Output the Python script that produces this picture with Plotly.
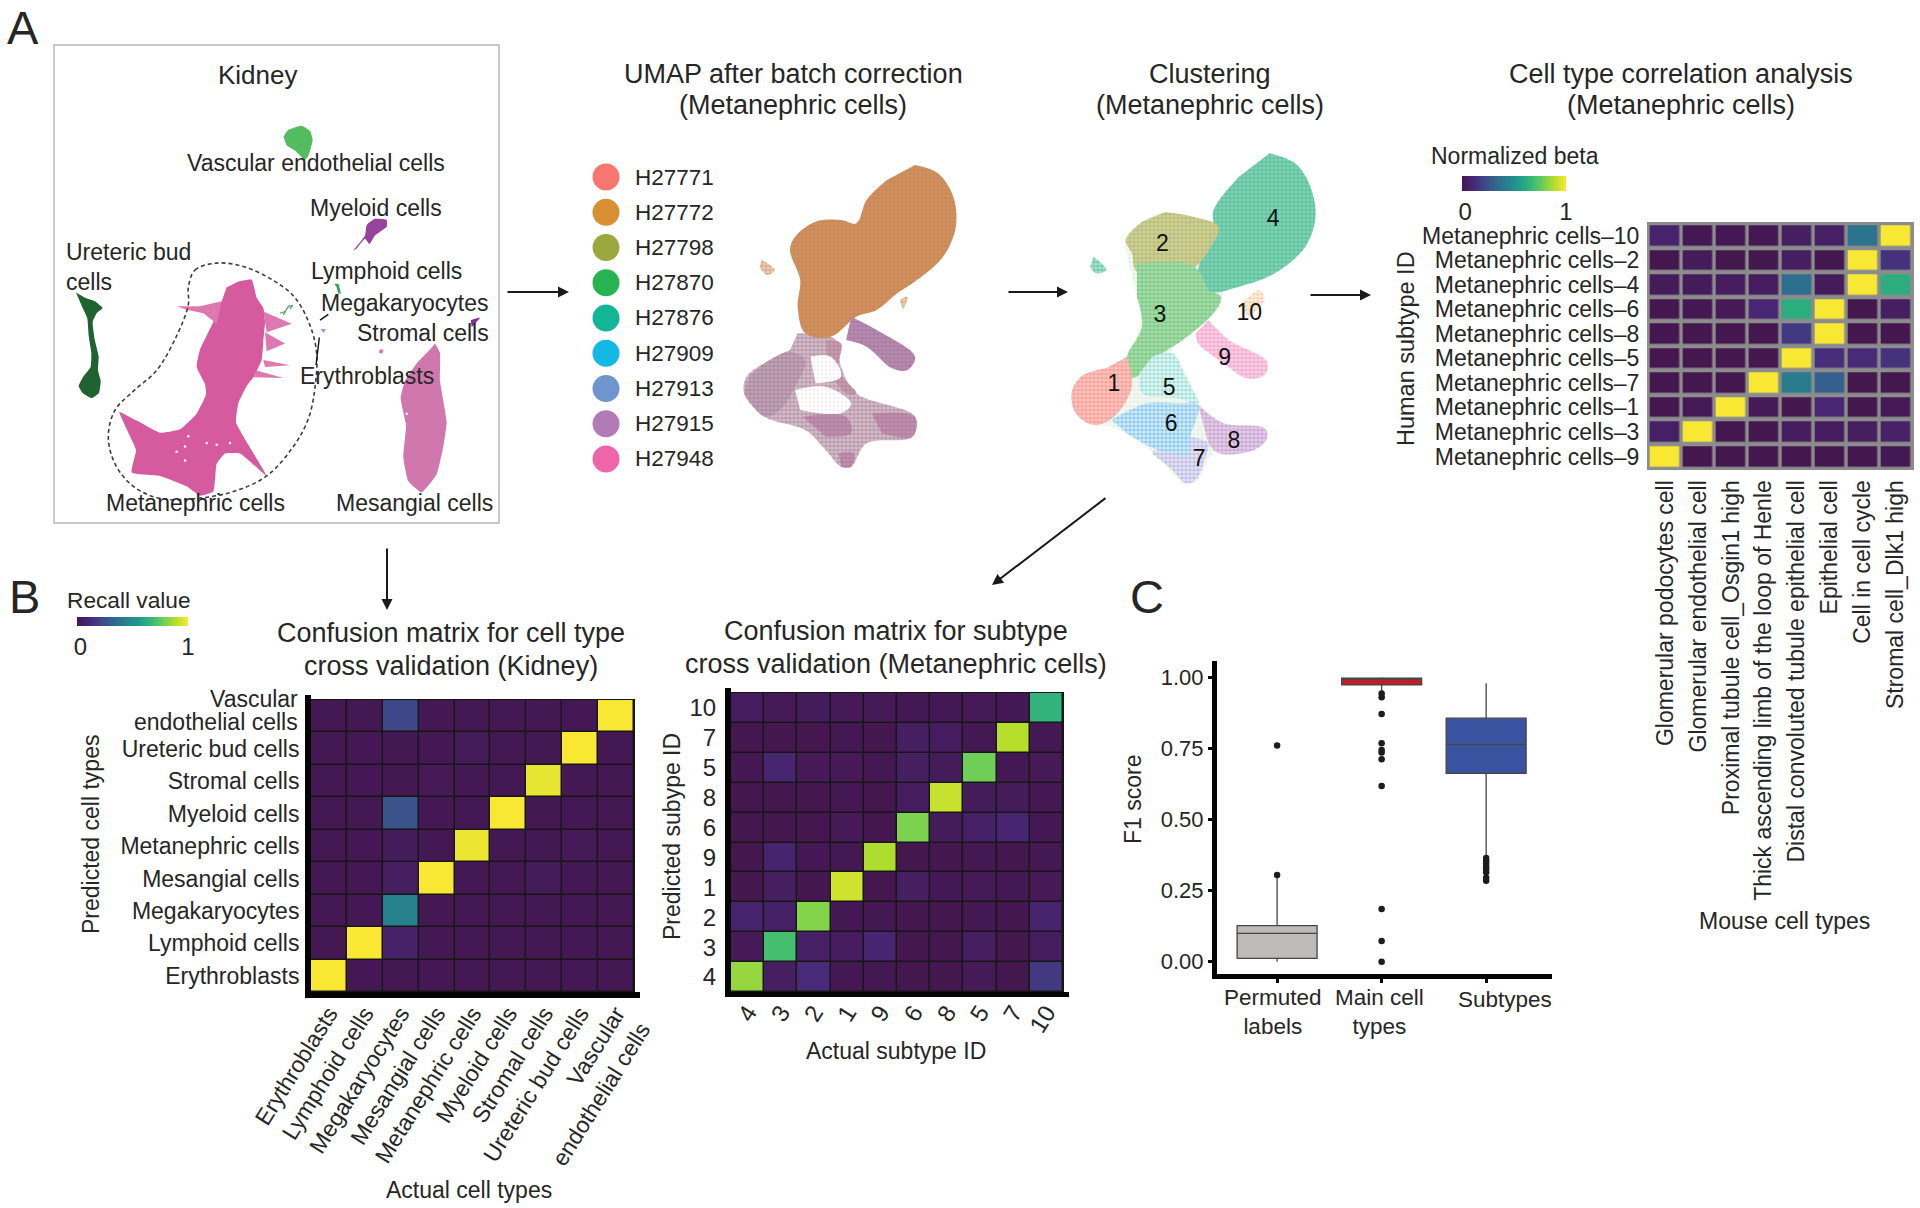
import plotly.graph_objects as go

W, H = 1920, 1208
FONT = "Liberation Sans"
INK = "#262626"

# ---- kidney UMAP outlines ---------------------
VASCULAR_X = [850, 865, 905, 930, 938, 925, 915, 885, 860]
VASCULAR_Y = [395, 375, 363, 378, 405, 450, 462, 435, 420]
MYELOID_X = [1058, 1095, 1100, 1125, 1160, 1160, 1125, 1108, 1095, 1070]
MYELOID_Y = [725, 680, 650, 632, 635, 655, 680, 705, 690, 718]
URETERIC_X = [228, 255, 285, 308, 290, 278, 284, 296, 294, 302, 297, 275, 248, 236, 252, 272, 274, 266, 262, 248]
URETERIC_Y = [845, 860, 870, 890, 905, 930, 980, 1030, 1070, 1100, 1135, 1150, 1135, 1115, 1085, 1060, 1020, 970, 920, 890]
METANEPHRIC_X = [680, 720, 755, 770, 790, 795, 790, 785, 760, 740, 715, 708, 745, 800, 720, 675, 650, 640, 600, 560, 480, 395,
                 408, 385, 358, 410, 480, 540, 590, 618, 615, 590, 600, 640, 665]
METANEPHRIC_Y = [830, 812, 808, 860, 890, 930, 985, 1040, 1090, 1115, 1165, 1220, 1285, 1375, 1310, 1310, 1340, 1420, 1432, 1405, 1375, 1365,
                 1300, 1250, 1190, 1215, 1250, 1240, 1195, 1140, 1110, 1060, 1010, 930, 870]
FRINGE_X = [790, 875, 800, None, 795, 855, 800, None, 790, 870, 795, None, 770, 850, 760, None, 530, 600, 665, 650, 610, 560]
FRINGE_Y = [900, 935, 960, None, 960, 992, 1015, None, 1040, 1055, 1060, None, 1070, 1092, 1090, None, 885, 885, 870, 935, 905, 895]
SPECK_X = [565, 555, 530, 555, 620, 650, 690, 1220, 1215]
SPECK_Y = [1260, 1290, 1305, 1330, 1280, 1285, 1280, 1195, 1225]
MESANGIAL_X = [1305, 1320, 1320, 1340, 1330, 1310, 1265, 1225, 1210, 1218, 1202, 1215, 1250, 1290]
MESANGIAL_Y = [992, 1020, 1100, 1220, 1290, 1370, 1422, 1390, 1320, 1230, 1150, 1100, 1050, 1010]
STROMAL_X = [1412, 1440, 1425, 1415]
STROMAL_Y = [925, 917, 935, 945]
LYMPHOID_X = [1003, 1015, 1022, 1015, 1010]
LYMPHOID_Y = [820, 820, 848, 848, 830]
MESANGIAL_DOT_X = [1138, 1150, 1146, 1138]
MESANGIAL_DOT_Y = [1010, 1010, 1022, 1020]
ERY_DOT_X = [962, 978, 970]
ERY_DOT_Y = [950, 952, 962]
STRAY_X = [840, 855, 850, 865, 878, 870]
STRAY_Y = [905, 900, 910, 885, 882, 892]
DASH_X = [565, 585, 650, 730, 820, 885, 930, 950, 945, 925, 880, 800, 700, 590, 480, 400, 345, 325, 345, 400, 470, 530, 565, 565]
DASH_Y = [830, 780, 760, 770, 810, 860, 940, 1020, 1120, 1210, 1290, 1375, 1420, 1440, 1440, 1405, 1340, 1260, 1185, 1130, 1070, 970, 880, 830]
LEADER_X = [958, 948, None, 960, 985]
LEADER_Y = [975, 1055, None, 925, 908]

BATCH_TOP_X = [735, 780, 810, 815, 790, 730, 700, 660, 620, 570, 520, 505, 510, 490, 500, 540, 590, 620, 640, 680]
BATCH_TOP_Y = [375, 400, 470, 560, 650, 730, 760, 810, 830, 890, 880, 800, 720, 630, 590, 545, 540, 550, 480, 420]
BATCH_ARM_X = [610, 660, 735, 720, 690, 640, 600]
BATCH_ARM_Y = [830, 870, 950, 990, 985, 920, 900]
BATCH_LOW_X = [505, 580, 590, 620, 735, 730, 640, 610, 590, 560, 520, 440, 400, 405, 450, 490]
BATCH_LOW_Y = [880, 900, 980, 1060, 1130, 1190, 1210, 1280, 1280, 1230, 1170, 1130, 1060, 1010, 960, 930]
BATCH_LOBE_X = [410, 450, 490, 520, 500, 470, 440, 400]
BATCH_LOBE_Y = [1010, 960, 935, 960, 1040, 1110, 1130, 1060]
BATCH_STRAND_X = [560, 590, 585, 620, 600, 565]
BATCH_STRAND_Y = [900, 910, 990, 1060, 1060, 990]
BATCH_HOLE1_X = [500, 560, 610, 590, 510]
BATCH_HOLE1_Y = [1050, 1040, 1090, 1120, 1110]
BATCH_HOLE2_X = [530, 570, 590, 540]
BATCH_HOLE2_Y = [950, 950, 1010, 1030]
BATCH_BAND1_X = [515, 600, 610, 560]
BATCH_BAND1_Y = [1130, 1130, 1180, 1190]
BATCH_BAND2_X = [650, 735, 730, 670]
BATCH_BAND2_Y = [1120, 1130, 1190, 1180]
BATCH_TIP_X = [585, 615, 610, 590]
BATCH_TIP_Y = [1240, 1240, 1280, 1280]
BATCH_ISLE1_X = [435, 460, 445, 430]
BATCH_ISLE1_Y = [660, 690, 705, 680]
BATCH_ISLE2_X = [705, 720, 712]
BATCH_ISLE2_Y = [780, 770, 810]

C_BASE_X = [1430, 1490, 1520, 1490, 1430, 1340, 1330, 1290, 1240, 1270, 1295, 1340, 1420, 1425, 1400, 1320, 1290, 1265, 1200, 1120,
            1085, 1050, 1042, 1060, 1145, 1175, 1170, 1150, 1148, 1180, 1225, 1320, 1360]
C_BASE_Y = [340, 390, 520, 640, 710, 760, 800, 860, 930, 1010, 1095, 1150, 1165, 1195, 1230, 1240, 1320, 1330, 1235, 1160,
            1155, 1120, 1060, 1010, 960, 860, 770, 640, 600, 545, 517, 540, 430]
C4_X = [1430, 1480, 1510, 1520, 1500, 1440, 1370, 1310, 1290, 1305, 1320, 1320, 1370]
C4_Y = [340, 370, 440, 530, 620, 700, 740, 755, 700, 620, 560, 510, 410]
C2_X = [1225, 1280, 1330, 1315, 1275, 1170, 1160, 1148, 1180]
C2_Y = [517, 530, 560, 620, 690, 695, 640, 600, 545]
C3_X = [1170, 1270, 1295, 1310, 1335, 1320, 1260, 1220, 1170, 1150, 1150, 1180, 1170]
C3_Y = [670, 670, 700, 750, 770, 820, 900, 940, 1010, 1010, 950, 860, 770]
C1_X = [1150, 1160, 1125, 1085, 1050, 1042, 1060, 1110]
C1_Y = [950, 1040, 1130, 1155, 1120, 1060, 1010, 985]
C5_X = [1200, 1240, 1265, 1290, 1250, 1180, 1175]
C5_Y = [950, 940, 1010, 1090, 1075, 1060, 1000]
C6_X = [1120, 1190, 1250, 1290, 1275, 1270, 1210, 1150]
C6_Y = [1140, 1090, 1090, 1095, 1190, 1250, 1230, 1180]
C7_X = [1275, 1310, 1305, 1285, 1265, 1240, 1200, 1270]
C7_Y = [1190, 1210, 1250, 1320, 1330, 1290, 1235, 1250]
C8_X = [1290, 1340, 1420, 1425, 1400, 1330, 1310]
C8_Y = [1095, 1150, 1165, 1195, 1230, 1240, 1210]
C9_X = [1310, 1350, 1425, 1420, 1385, 1340, 1290, 1285]
C9_Y = [840, 900, 965, 1005, 1015, 970, 910, 880]
C10_X = [1370, 1410, 1420, 1390]
C10_Y = [800, 750, 780, 830]
C_ISLE_X = [1085, 1110, 1090, 1078]
C_ISLE_Y = [650, 690, 700, 680]
CLUSTER_IDS = ["2", "4", "3", "10", "9", "1", "5", "6", "8", "7"]
CLUSTER_LABEL_X = [1220, 1437, 1215, 1390, 1342, 1125, 1233, 1237, 1360, 1292]
CLUSTER_LABEL_Y = [615, 540, 828, 822, 958, 1035, 1048, 1157, 1207, 1262]

BATCH_IDS = ["H27771", "H27772", "H27798", "H27870", "H27876", "H27909", "H27913", "H27915", "H27948"]
BATCH_COLORS = ["#f8766d", "#d89033", "#9aa83d", "#27b34f", "#12b596", "#14b9e3", "#6f95cf", "#b27bb5", "#ee66a8"]

# ---- heatmaps ---------------------------------------------------------------
HUMAN_SUBTYPES = ["Metanephric cells\u201310", "Metanephric cells\u20132", "Metanephric cells\u20134",
                  "Metanephric cells\u20136", "Metanephric cells\u20138", "Metanephric cells\u20135",
                  "Metanephric cells\u20137", "Metanephric cells\u20131", "Metanephric cells\u20133",
                  "Metanephric cells\u20139"]
MOUSE_TYPES = ["Glomerular podocytes cell", "Glomerular endothelial cell", "Proximal tubule cell_Osgin1 high",
               "Thick ascending limb of the loop of Henle", "Distal convoluted tubule epithelial cell",
               "Epithelial cell", "Cell in cell cycle", "Stromal cell_Dlk1 high"]
BETA = [
    [.08, .01, .01, .01, .05, .06, .38, 1],
    [0, .03, 0, 0, .05, 0, 1, .14],
    [.03, .03, .04, .04, .36, .03, 1, .62],
    [0, .01, .02, .1, .62, 1, 0, .05],
    [0, 0, 0, 0, .17, 1, 0, 0],
    [0, 0, 0, 0, 1, .13, .12, .14],
    [0, 0, 0, 1, .42, .3, 0, 0],
    [0, .02, 1, .02, 0, .1, 0, .02],
    [.06, 1, 0, 0, .04, .04, .05, .07],
    [1, 0, 0, 0, 0, 0, 0, .01],
]
PREDICTED_TYPES = ["Vascular endothelial cells", "Ureteric bud cells", "Stromal cells", "Myeloid cells",
                   "Metanephric cells", "Mesangial cells", "Megakaryocytes", "Lymphoid cells", "Erythroblasts"]
ACTUAL_TYPES = ["Erythroblasts", "Lymphoid cells", "Megakaryocytes", "Mesangial cells", "Metanephric cells",
                "Myeloid cells", "Stromal cells", "Ureteric bud cells", "Vascular<br>endothelial cells"]
RECALL = [
    [.01, .01, .22, .01, .01, .01, .01, .01, 1],
    [.01, .01, .01, .01, .03, .01, .01, 1, .01],
    [.01, .01, .01, .02, .01, .01, .97, .01, .01],
    [.01, .01, .26, .01, .01, 1, .01, .01, .01],
    [.01, .01, .03, .01, .98, .01, .01, .02, .01],
    [.01, .01, .05, 1, .01, .01, .03, .01, .01],
    [.01, .01, .45, .01, .01, .01, .01, .01, .01],
    [.01, 1, .07, .01, .01, .01, .01, .01, .01],
    [1, .01, .01, .01, .01, .01, .01, .01, .01],
]
PREDICTED_SUBTYPES = ["10", "7", "5", "8", "6", "9", "1", "2", "3", "4"]
ACTUAL_SUBTYPES = ["4", "3", "2", "1", "9", "6", "8", "5", "7", "10"]
SUBTYPE_RECALL = [
    [.04, .02, .03, .02, .02, .01, .01, .02, .01, .65],
    [0, 0, 0, .01, 0, .05, .04, .01, .89, .01],
    [.01, .09, .02, .02, .01, .05, .03, .78, .01, .02],
    [0, 0, 0, .01, 0, .04, .92, .03, .03, .01],
    [0, 0, 0, .02, 0, .8, .03, .06, .09, .01],
    [0, .08, .01, .01, .88, 0, 0, .01, 0, .01],
    [0, .05, 0, .93, 0, .05, .01, .02, .01, .02],
    [.08, .06, .81, .01, .01, 0, 0, .01, 0, .08],
    [.02, .7, .06, .04, .09, 0, 0, .05, 0, .04],
    [.84, .05, .12, .01, .01, 0, 0, .02, 0, .17],
]
# viridis, with the muted dark and yellow ends of the printed figure
HEAT_SCALE = ["#44174f", "#482878", "#3e4989", "#31688e", "#26828e", "#1f9e89", "#35b779", "#6ece58", "#b5de2b", "#f8e834"]

# ---- box plot ---------------------------------------------------------------
GROUPS = ["Permuted<br>labels", "Main cell<br>types", "Subtypes"]
Q1 = [.012, .973, .662]
MEDIAN = [.10, .995, .764]
Q3 = [.127, .997, .856]
LOW = [0, .943, .369]
HIGH = [.305, 1.0, .979]
BOX_COLORS = ["#bdbcba", "#bd2028", "#3953a1"]
OUTLIERS = [
    [.76, .305],
    [.943, .93, .871, .768, .744, .735, .712, .618, .185, .073, 0],
    [.365, .355, .345, .335, .325, .315, .295, .285],
]


def px_x(a, b):
    return [a / W, b / W]


def px_y(a, b):
    # a is the upper edge in page pixels
    return [1 - b / H, 1 - a / H]


def hidden_axis(rng, domain, anchor):
    return dict(domain=domain, range=rng, visible=False, anchor=anchor, fixedrange=True)


def heat_axis(domain, anchor, rng, size=23, **kw):
    return dict(domain=domain, anchor=anchor, range=rng, type="category", showgrid=False, zeroline=False, dtick=1,
                ticks="outside", tickcolor="rgba(0,0,0,0)", tickfont=dict(size=size, color=INK), **kw)


def outline(x, y, color, xa, ya, smoothing=.6):
    return go.Scatter(x=x, y=y, xaxis=xa, yaxis=ya, mode="lines", fill="toself", fillcolor=color,
                      line=dict(width=0, shape="spline", smoothing=smoothing), hoverinfo="skip", showlegend=False)


def cloud(x, y, fg, bg, xa="x3", ya="y3", size=4, solidity=.5):
    # point clouds are drawn as speckled areas
    return go.Scatter(x=x, y=y, xaxis=xa, yaxis=ya, mode="lines", fill="toself",
                      line=dict(width=0, shape="spline", smoothing=1), fillcolor=bg,
                      fillpattern=dict(shape=".", size=size, solidity=solidity, fgcolor=fg, bgcolor=bg),
                      hoverinfo="skip", showlegend=False)


fig = go.Figure()

# page-pixel overlay, only for furniture; the real traces have their own axes
fig.add_trace(go.Scatter(x=[None], y=[None], xaxis="x", yaxis="y", showlegend=False))

for x, y, c in [(VASCULAR_X, VASCULAR_Y, "#52bd60"), (MYELOID_X, MYELOID_Y, "#96439b"),
                (URETERIC_X, URETERIC_Y, "#1f6331"), (METANEPHRIC_X, METANEPHRIC_Y, "#d55a9e"),
                (MESANGIAL_X, MESANGIAL_Y, "#d077ae"), (STROMAL_X, STROMAL_Y, "#7b3294"),
                (LYMPHOID_X, LYMPHOID_Y, "#3aa655"), (MESANGIAL_DOT_X, MESANGIAL_DOT_Y, "#d077ae"),
                (ERY_DOT_X, ERY_DOT_Y, "#b58fd0")]:
    fig.add_trace(outline(x, y, c, "x2", "y2", smoothing=.4))
fig.add_trace(go.Scatter(x=FRINGE_X, y=FRINGE_Y, xaxis="x2", yaxis="y2", mode="lines", fill="toself", fillcolor="#dd78b0",
                         line=dict(width=0), hoverinfo="skip", showlegend=False))
fig.add_trace(go.Scatter(x=SPECK_X, y=SPECK_Y, xaxis="x2", yaxis="y2", mode="markers",
                         marker=dict(size=2.5, color="white"), hoverinfo="skip", showlegend=False))
fig.add_trace(go.Scatter(x=STRAY_X, y=STRAY_Y, xaxis="x2", yaxis="y2", mode="lines",
                         line=dict(color="#4aa860", width=1.2), hoverinfo="skip", showlegend=False))
fig.add_trace(go.Scatter(x=DASH_X, y=DASH_Y, xaxis="x2", yaxis="y2", mode="lines",
                         line=dict(color="#3d3d3d", width=1.6, dash="4px,3px", shape="spline"),
                         hoverinfo="skip", showlegend=False))
fig.add_trace(go.Scatter(x=LEADER_X, y=LEADER_Y, xaxis="x2", yaxis="y2", mode="lines",
                         line=dict(color="#111", width=1.4), hoverinfo="skip", showlegend=False))

# batch-corrected UMAP
fig.add_trace(cloud(BATCH_LOW_X, BATCH_LOW_Y, "#a37296", "#d2bcc6"))
fig.add_trace(cloud(BATCH_TOP_X, BATCH_TOP_Y, "#c87f3e", "#cf9163"))
fig.add_trace(cloud(BATCH_ARM_X, BATCH_ARM_Y, "#a26a9e", "#b58bad"))
fig.add_trace(cloud(BATCH_LOBE_X, BATCH_LOBE_Y, "#a0708f", "#bfa3b5"))
fig.add_trace(cloud(BATCH_STRAND_X, BATCH_STRAND_Y, "#a9748c", "#c49cab"))
fig.add_trace(cloud(BATCH_HOLE1_X, BATCH_HOLE1_Y, "#e4d6da", "#ffffff", solidity=.25))
fig.add_trace(cloud(BATCH_HOLE2_X, BATCH_HOLE2_Y, "#e4d6da", "#ffffff", solidity=.25))
fig.add_trace(cloud(BATCH_BAND1_X, BATCH_BAND1_Y, "#ac6a98", "#bd90ac"))
fig.add_trace(cloud(BATCH_BAND2_X, BATCH_BAND2_Y, "#ac6a98", "#bd90ac"))
fig.add_trace(cloud(BATCH_TIP_X, BATCH_TIP_Y, "#ac6a98", "#bd90ac"))
fig.add_trace(cloud(BATCH_ISLE1_X, BATCH_ISLE1_Y, "#c98a55", "#e8cdb6"))
fig.add_trace(cloud(BATCH_ISLE2_X, BATCH_ISLE2_Y, "#c98a55", "#e8cdb6"))

# clustering UMAP
fig.add_trace(cloud(C_BASE_X, C_BASE_Y, "#d4e8d4", "#f4f9f4"))
for x, y, fg, bg in [(C4_X, C4_Y, "#33b58b", "#83d1b5"), (C2_X, C2_Y, "#a3a94b", "#cdd09a"),
                     (C3_X, C3_Y, "#55ba60", "#a6dcab"), (C1_X, C1_Y, "#f2837a", "#fac2bd"),
                     (C5_X, C5_Y, "#5ccabd", "#e2f5f2"), (C6_X, C6_Y, "#4db0e6", "#cfe9f7"),
                     (C7_X, C7_Y, "#9b98d4", "#e4e3f4"), (C8_X, C8_Y, "#b983c4", "#e2cde7"),
                     (C9_X, C9_Y, "#f086be", "#f9cfe5"), (C10_X, C10_Y, "#eebb88", "#fbeedd"),
                     (C_ISLE_X, C_ISLE_Y, "#33b58b", "#a6e0cc")]:
    fig.add_trace(cloud(x, y, fg, bg))
fig.add_trace(go.Scatter(x=CLUSTER_LABEL_X, y=CLUSTER_LABEL_Y, text=CLUSTER_IDS, xaxis="x3", yaxis="y3", mode="text",
                         textfont=dict(family=FONT, size=23, color="#111"), hoverinfo="skip", showlegend=False))

# batch legend: marker position comes from the row index
fig.add_trace(go.Scatter(x=[0] * len(BATCH_IDS), y=list(range(len(BATCH_IDS))), xaxis="x4", yaxis="y4", mode="markers",
                         marker=dict(size=27, color=BATCH_COLORS), hoverinfo="skip", showlegend=False))

fig.add_trace(go.Heatmap(z=BETA, x=MOUSE_TYPES, y=HUMAN_SUBTYPES, xaxis="x5", yaxis="y5", colorscale=HEAT_SCALE,
                         zmin=0, zmax=1, xgap=3.5, ygap=4.5,
                         colorbar=dict(orientation="h", x=1462 / W, y=1 - 176 / H, xanchor="left", yanchor="top",
                                       lenmode="pixels", len=104, thicknessmode="pixels", thickness=15, xpad=0, ypad=0,
                                       tickvals=[.03, 1], ticktext=["0", "1"], ticks="", outlinewidth=0,
                                       tickfont=dict(size=24, color=INK))))
fig.add_trace(go.Heatmap(z=RECALL, x=ACTUAL_TYPES, y=PREDICTED_TYPES, xaxis="x6", yaxis="y6", colorscale=HEAT_SCALE,
                         zmin=0, zmax=1, xgap=1.5, ygap=1.5,
                         colorbar=dict(orientation="h", x=77 / W, y=1 - 617 / H, xanchor="left", yanchor="top",
                                       lenmode="pixels", len=111, thicknessmode="pixels", thickness=9, xpad=0, ypad=0,
                                       tickvals=[.03, 1], ticktext=["0", "1"], ticks="", outlinewidth=0,
                                       tickfont=dict(size=24, color=INK))))
fig.add_trace(go.Heatmap(z=SUBTYPE_RECALL, x=ACTUAL_SUBTYPES, y=PREDICTED_SUBTYPES, xaxis="x7", yaxis="y7",
                         colorscale=HEAT_SCALE, zmin=0, zmax=1, xgap=1.5, ygap=1.5, showscale=False))

for i, g in enumerate(GROUPS):
    fig.add_trace(go.Box(x=[g], q1=[Q1[i]], median=[MEDIAN[i]], q3=[Q3[i]], lowerfence=[LOW[i]], upperfence=[HIGH[i]],
                         xaxis="x8", yaxis="y8", fillcolor=BOX_COLORS[i], width=.765, whiskerwidth=0,
                         line=dict(color="#454545", width=1.3), boxpoints=False, hoverinfo="skip", showlegend=False))
    fig.add_trace(go.Scatter(x=[g] * len(OUTLIERS[i]), y=OUTLIERS[i], xaxis="x8", yaxis="y8", mode="markers",
                             marker=dict(size=6.5, color="#1c1c1c"), hoverinfo="skip", showlegend=False))

# ---- text -------------------------------------------------------------------
TEXTS = [
    ("A", 23, 27, 47), ("B", 24, 596, 47), ("C", 1147, 596, 47),
    ("Kidney", 258, 75, 26),
    ("Vascular endothelial cells", 316, 163, 23), ("Myeloid cells", 376, 208, 23),
    ("Lymphoid cells", 386, 271, 23), ("Megakaryocytes", 404, 303, 23), ("Stromal cells", 423, 333, 23),
    ("Erythroblasts", 367, 376, 23), ("Metanephric cells", 195, 503, 23), ("Mesangial cells", 414, 503, 23),
    ("UMAP after batch correction", 793, 74, 27), ("(Metanephric cells)", 793, 105, 27),
    ("Clustering", 1210, 74, 27), ("(Metanephric cells)", 1210, 105, 27),
    ("Cell type correlation analysis", 1681, 74, 27), ("(Metanephric cells)", 1681, 105, 27),
    ("Normalized beta", 1515, 156, 23), ("Mouse cell types", 1784, 921, 23),
    ("Recall value", 129, 600, 22.7),
    ("Confusion matrix for cell type", 451, 633, 27), ("cross validation (Kidney)", 451, 666, 27),
    ("Confusion matrix for subtype", 896, 631, 27), ("cross validation (Metanephric cells)", 896, 664, 27),
    ("Actual cell types", 469, 1190, 23), ("Actual subtype ID", 896, 1051, 23),
]
annotations = [dict(text=t, x=x, y=y, xref="x", yref="y", showarrow=False, font=dict(family=FONT, size=s, color=INK))
               for t, x, y, s in TEXTS]
annotations.append(dict(text="Ureteric bud<br>cells", x=64, y=267, xref="x", yref="y", showarrow=False, align="left",
                        xanchor="left", font=dict(family=FONT, size=23, color=INK)))
# the two-line row label sits tighter than a tick label can
for t, y in [("Vascular", 699), ("endothelial cells", 722)]:
    annotations.append(dict(text=t, x=300, y=y, xref="x", yref="y", showarrow=False, xanchor="right",
                            font=dict(family=FONT, size=23, color=INK)))
for g, x, y in zip(GROUPS, [1273, 1379, 1505], [1012, 1012, 999]):
    annotations.append(dict(text=g, x=x, y=y, xref="x", yref="y", showarrow=False,
                            font=dict(family=FONT, size=22.5, color=INK)))
for t, x, y, s in [("Human subtype ID", 1406, 349, 23.5), ("Predicted cell types", 91, 835, 23),
                   ("Predicted subype ID", 672, 837, 23), ("F1 score", 1133, 800, 23)]:
    annotations.append(dict(text=t, x=x, y=y, xref="x", yref="y", showarrow=False, textangle=-90,
                            font=dict(family=FONT, size=s, color=INK)))
for t, y in zip(BATCH_IDS, range(len(BATCH_IDS))):
    annotations.append(dict(text=t, x=0, y=y, xref="x4", yref="y4", showarrow=False, xanchor="left", xshift=27,
                            font=dict(family=FONT, size=22.5, color=INK)))
for x0, y0, x1, y1 in [(506, 292, 569, 292), (1007, 292, 1068, 292), (1309, 295, 1371, 295),
                       (387, 547, 387, 610), (1107, 497, 992, 585)]:
    annotations.append(dict(x=x1, y=y1, ax=x0, ay=y0, xref="x", yref="y", axref="x", ayref="y", text="", showarrow=True,
                            arrowhead=2, arrowsize=1.1, arrowwidth=2, arrowcolor="#1a1a1a"))

shapes = [
    dict(type="rect", x0=54, y0=45, x1=499, y1=523, xref="x", yref="y", line=dict(color="#b9b9b9", width=1.5)),
    dict(type="rect", x0=1647, y0=222, x1=1914, y1=470, xref="x", yref="y", layer="below",
         fillcolor="#8c8c8c", line=dict(width=0)),
    dict(type="rect", x0=310, y0=699, x1=635, y1=993, xref="x", yref="y", layer="below",
         fillcolor="#161616", line=dict(width=0)),
    dict(type="rect", x0=730, y0=692, x1=1064, y1=993, xref="x", yref="y", layer="below",
         fillcolor="#161616", line=dict(width=0)),
]
# heavy axis bars of the two confusion matrices overshoot the cells a little
for x0, y0, x1, y1 in [(305, 695, 311, 998), (305, 992, 640, 998), (725, 688, 731, 997), (725, 992, 1069, 997)]:
    shapes.append(dict(type="rect", x0=x0, y0=y0, x1=x1, y1=y1, xref="x", yref="y",
                       fillcolor="#050505", line=dict(width=0)))

fig.update_layout(
    width=W, height=H, autosize=False, margin=dict(l=0, r=0, t=0, b=0, autoexpand=False),
    paper_bgcolor="white", plot_bgcolor="rgba(0,0,0,0)",
    font=dict(family=FONT, color=INK), showlegend=False, annotations=annotations, shapes=shapes,
    xaxis=hidden_axis([0, W], [0, 1], "y"), yaxis=hidden_axis([H, 0], [0, 1], "x"),
    xaxis2=hidden_axis([0, 1560], px_x(0, 520), "y2"), yaxis2=hidden_axis([1560, 0], px_y(0, 540), "x2"),
    xaxis3=hidden_axis([0, 1568], px_x(540, 1340), "y3"), yaxis3=hidden_axis([1410, 0], px_y(40, 510), "x3"),
    xaxis4=hidden_axis([-1, 1], px_x(586, 626), "y4"), yaxis4=hidden_axis([8.5, -.5], px_y(159.4, 476.6), "x4"),
    xaxis5=heat_axis(px_x(1647, 1914), "y5", [-.55, 7.55], tickangle=-90, ticklen=0),
    yaxis5=heat_axis(px_y(222, 470), "x5", [9.55, -.55], ticklen=2),
    xaxis6=heat_axis(px_x(311, 634), "y6", [-.5, 8.5], tickangle=-58, ticklen=0, ticklabelstandoff=-2),
    yaxis6=heat_axis(px_y(700, 992), "x6", [8.5, -.5], ticklen=6, tickmode="array", tickvals=PREDICTED_TYPES,
                     ticktext=[""] + PREDICTED_TYPES[1:]),
    xaxis7=heat_axis(px_x(731, 1063), "y7", [-.5, 9.5], size=24, tickangle=-58, ticklen=0, ticklabelstandoff=-4),
    yaxis7=heat_axis(px_y(693, 992), "x7", [9.5, -.5], size=24, ticklen=9),
    xaxis8=dict(domain=px_x(1217, 1552), anchor="y8", type="category", categoryorder="array", categoryarray=GROUPS,
                range=[-.575, 2.63], showline=True, linecolor="#050505", linewidth=5, ticks="outside", ticklen=4,
                tickwidth=3, tickcolor="#050505", showgrid=False, zeroline=False, showticklabels=False),
    yaxis8=dict(domain=px_y(661, 974), anchor="x8", range=[-.043, 1.057], tickvals=[0, .25, .5, .75, 1],
                ticktext=["0.00", "0.25", "0.50", "0.75", "1.00"], showline=True, linecolor="#050505", linewidth=5,
                ticks="outside", ticklen=4, tickwidth=3, tickcolor="#050505", showgrid=False, zeroline=False,
                tickfont=dict(size=22, color=INK)),
)

fig.write_html("out.html", config={"displayModeBar": False}, post_script="document.body.style.margin='0';")
